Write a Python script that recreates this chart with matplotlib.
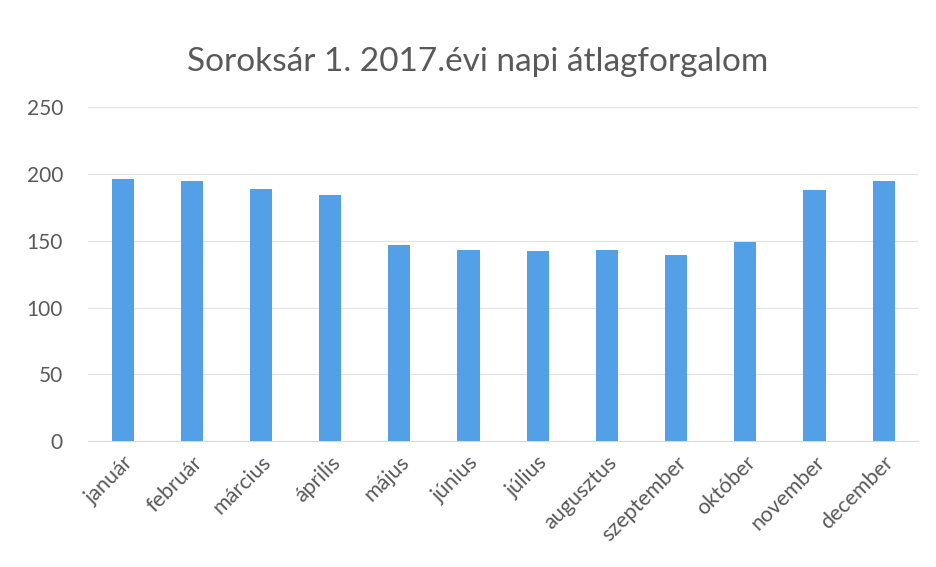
import numpy as np
import matplotlib.pyplot as plt

months = ["január", "február", "március", "április", "május", "június",
          "július", "augusztus", "szeptember", "október", "november", "december"]
traffic = [196, 195, 189, 184, 147, 143, 142, 143, 139, 149, 188, 195]
yticks = [0, 50, 100, 150, 200, 250]

plt.rcParams['font.family'] = ['Lato', 'DejaVu Sans']

fig = plt.figure(figsize=(9.36, 5.67), dpi=100)
ax = fig.add_axes([0.094, 0.222, 0.887, 0.589])

x = np.arange(len(months))
ax.bar(x, traffic, width=0.32, color="#53a0e6", zorder=3)

ax.set_xlim(-0.5, len(months) - 0.5)
ax.set_ylim(0, 250)
ax.set_yticks(yticks)
ax.set_xticks(x)
ax.set_xticklabels(months, rotation=45, ha="right", rotation_mode="anchor")
ax.tick_params(axis="y", length=0, colors="#595959", labelsize=15, pad=18)
ax.tick_params(axis="x", length=0, colors="#595959", labelsize=15.5, pad=8)
ax.grid(axis="y", color="#e3e3e3", linewidth=0.8, zorder=0)
for s in ["top", "right", "left"]:
    ax.spines[s].set_visible(False)
ax.spines["bottom"].set_color("#d9d9d9")

fig.text(0.51, 0.89, "Soroksár 1. 2017.évi napi átlagforgalom",
         ha="center", va="center", fontsize=24, color="#595959")

fig.savefig("out.png", dpi=100)
